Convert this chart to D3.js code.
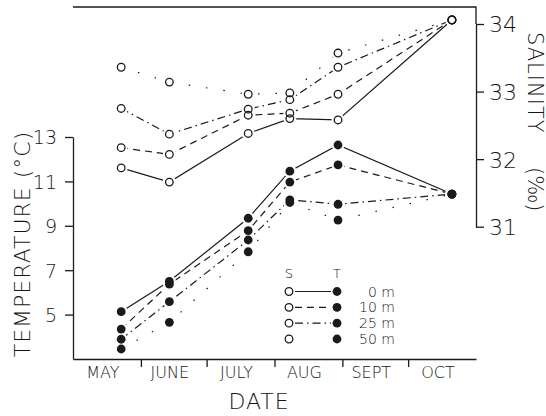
<!DOCTYPE html>
<html>
<head>
<meta charset="utf-8">
<script src="https://cdn.jsdelivr.net/npm/d3@7"></script>
<style>
  html, body { margin: 0; padding: 0; background: #fff; }
  svg { display: block; }
  text { font-family: "DejaVu Sans", sans-serif; font-weight: 200; fill: #151515; }
</style>
</head>
<body>
<svg id="chart" width="546" height="416"></svg>
<script>
// sampling dates and month labels
const sampleDates = ['1975-05-23', '1975-06-14', '1975-07-20', '1975-08-08', '1975-08-30', '1975-10-21'];
const monthStarts = ['1975-05-01', '1975-06-01', '1975-07-01', '1975-08-01', '1975-09-01', '1975-10-01', '1975-11-01'];
const monthLabels = ['MAY', 'JUNE', 'JULY', 'AUG', 'SEPT', 'OCT'];
const depths = ['0 m', '10 m', '25 m', '50 m'];

// salinity (‰) per depth
const salinity0 = [31.87, 31.66, 32.38, 32.60, 32.58, 34.06];
const salinity10 = [32.17, 32.07, 32.65, 32.68, 32.96, 34.06];
const salinity25 = [32.75, 32.37, 32.74, 32.88, 33.36, 34.06];
const salinity50 = [33.36, 33.14, 32.96, 32.98, 33.57, 34.06];

// temperature (°C) per depth
const temp0 = [5.13, 6.50, 9.34, 11.46, 12.64, 10.43];
const temp10 = [4.35, 6.37, 8.78, 10.97, 11.74, 10.43];
const temp25 = [3.89, 5.58, 8.36, 10.17, 9.97, 10.43];
const temp50 = [3.45, 4.65, 7.83, 10.05, 9.26, 10.43];

const tempTicks = [5, 7, 9, 11, 13];
const salTicks = [31, 32, 33, 34];

const parse = d3.utcParse('%Y-%m-%d');
const dates = sampleDates.map(parse);
const months = monthStarts.map(parse);
const salinity = [salinity0, salinity10, salinity25, salinity50];
const temperature = [temp0, temp10, temp25, temp50];
const dashes = [null, '7,5', '8,4,1.5,4', '1.5,16'];
const ink = '#1a1a1a';

const svg = d3.select('#chart');

/* SCALES */
const x = d3.scaleUtc()
    .domain([months[0], months[months.length - 1]])
    .range([73, 476]);
const yT = d3.scaleLinear().domain([3, 13]).range([359, 137]);
const yS = d3.scaleLinear().domain([31, 34]).range([226.7, 24]);
const topY = 7;

/* AXES */
const xAxis = d3.axisBottom(x)
    .tickValues(months.slice(1, -1))
    .tickFormat('')
    .tickSize(8)
    .tickSizeOuter(0);
svg.append('g')
    .attr('transform', `translate(0, ${yT(3)})`)
    .call(xAxis);

const tAxis = d3.axisLeft(yT)
    .tickValues(tempTicks)
    .tickFormat(d3.format('d'))
    .tickSize(8)
    .tickPadding(8)
    .tickSizeOuter(0);
svg.append('g')
    .attr('class', 'taxis')
    .attr('transform', `translate(${x.range()[0]}, 0)`)
    .call(tAxis);

const sAxis = d3.axisRight(yS)
    .tickValues(salTicks)
    .tickFormat(d3.format('d'))
    .tickSize(8)
    .tickPadding(5)
    .tickSizeOuter(0);
svg.append('g')
    .attr('class', 'saxis')
    .attr('transform', `translate(${x.range()[1]}, 0)`)
    .call(sAxis);

svg.selectAll('.domain, .tick line').attr('stroke', ink).attr('stroke-width', 1.3);
svg.selectAll('.taxis text').style('font-size', '19px').attr('fill', ink).attr('dy', '0.36em');
svg.selectAll('.saxis text').style('font-size', '22px').attr('fill', ink).attr('dy', '0.36em');
svg.selectAll('.tick text').style('font-family', '"DejaVu Sans", sans-serif').style('font-weight', 200);

/* top frame */
svg.append('path')
    .attr('d', `M${x.range()[0]},${topY}H${x.range()[1]}V${yS(34)}`)
    .attr('fill', 'none')
    .attr('stroke', ink)
    .attr('stroke-width', 1.3);

/* month labels */
svg.selectAll('.month')
    .data(monthLabels).enter()
    .append('text')
    .attr('class', 'month')
    .attr('x', (d, i) => (x(months[i]) + x(months[i + 1])) / 2 - 4)
    .attr('y', 378)
    .attr('text-anchor', 'middle')
    .style('font-size', '16px')
    .text(d => d);

/* titles */
svg.append('text')
    .attr('x', 259).attr('y', 409)
    .attr('text-anchor', 'middle')
    .style('font-size', '22px')
    .style('letter-spacing', '1px')
    .text('DATE');

svg.append('text')
    .attr('transform', 'translate(30, 244) rotate(-90)')
    .attr('text-anchor', 'middle')
    .style('font-size', '22px')
    .style('letter-spacing', '1px')
    .text('TEMPERATURE (°C)');

svg.append('text')
    .attr('transform', 'translate(528, 32) rotate(90)')
    .style('font-size', '21px')
    .style('letter-spacing', '1px')
    .text('SALINITY');
svg.append('text')
    .attr('transform', 'translate(528, 167) rotate(90)')
    .style('font-size', '21px')
    .text('(‰)');

/* LINES */
const lineS = d3.line().x((d, i) => x(dates[i])).y(d => yS(d));
const lineT = d3.line().x((d, i) => x(dates[i])).y(d => yT(d));

const lines = svg.append('g').attr('fill', 'none').attr('stroke', ink).attr('stroke-width', 1.2);
salinity.forEach((s, k) => {
    lines.append('path').attr('d', lineS(s)).attr('stroke-dasharray', dashes[k]);
});
temperature.forEach((t, k) => {
    lines.append('path').attr('d', lineT(t)).attr('stroke-dasharray', dashes[k]);
});

/* halos so lines stop short of the markers */
const salPts = salinity.flatMap(s => s.map((v, i) => [x(dates[i]), yS(v)]));
const tempPts = temperature.flatMap(t => t.map((v, i) => [x(dates[i]), yT(v)]));
svg.append('g').selectAll('circle')
    .data(salPts.concat(tempPts)).enter()
    .append('circle')
    .attr('cx', d => d[0]).attr('cy', d => d[1])
    .attr('r', 6.5)
    .attr('fill', '#fff');

/* MARKERS */
svg.append('g').selectAll('circle')
    .data(salPts).enter()
    .append('circle')
    .attr('cx', d => d[0]).attr('cy', d => d[1])
    .attr('r', 3.8)
    .attr('fill', 'none')
    .attr('stroke', ink)
    .attr('stroke-width', 1.3);
svg.append('g').selectAll('circle')
    .data(tempPts).enter()
    .append('circle')
    .attr('cx', d => d[0]).attr('cy', d => d[1])
    .attr('r', 4.4)
    .attr('fill', ink);

/* LEGEND */
const legend = svg.append('g').attr('id', 'legend');
const legY = d3.scalePoint().domain(depths).range([291.5, 339]);
legend.append('text').attr('x', 289).attr('y', 278).attr('text-anchor', 'middle')
    .style('font-size', '13px').text('S');
legend.append('text').attr('x', 337).attr('y', 278).attr('text-anchor', 'middle')
    .style('font-size', '13px').text('T');
const rows = legend.selectAll('.row')
    .data(depths).enter()
    .append('g')
    .attr('transform', d => `translate(0, ${legY(d)})`);
rows.filter((d, k) => k < 3)
    .append('line')
    .attr('x1', 295).attr('x2', 331)
    .attr('stroke', ink).attr('stroke-width', 1.2)
    .attr('stroke-dasharray', (d, k) => dashes[k]);
rows.append('circle').attr('cx', 289).attr('r', 3.8)
    .attr('fill', '#fff').attr('stroke', ink).attr('stroke-width', 1.3);
rows.append('circle').attr('cx', 337).attr('r', 4.4).attr('fill', ink);
rows.append('text')
    .attr('x', 395).attr('y', 5)
    .attr('text-anchor', 'end')
    .style('font-size', '14px')
    .text(d => d);
</script>
</body>
</html>
